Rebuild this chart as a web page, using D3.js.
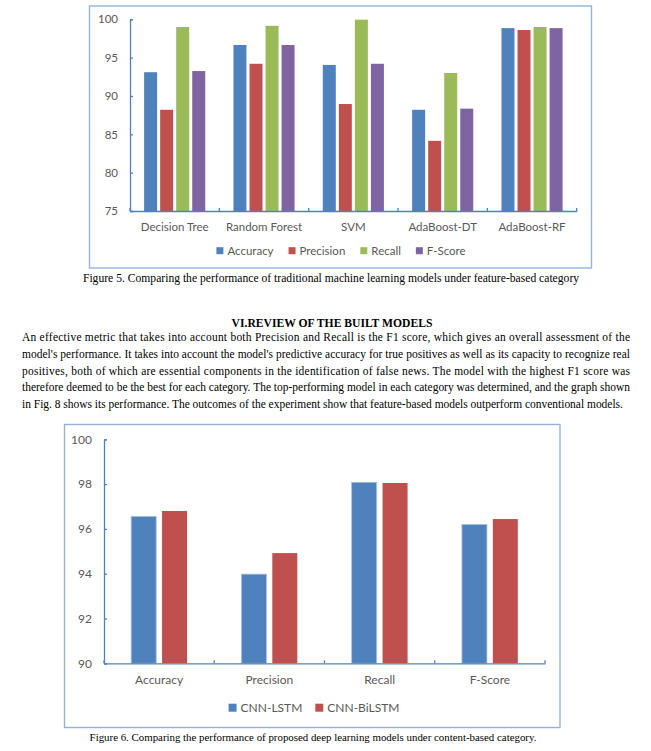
<!DOCTYPE html>
<html>
<head>
<meta charset="utf-8">
<script src="https://cdn.jsdelivr.net/npm/d3@7"></script>
<style>
  html, body { margin: 0; padding: 0; background: #fff; }
  svg { display: block; }
</style>
</head>
<body>
<svg id="page" width="651" height="751"></svg>
<script>
// ---------- Data: Figure 5 ----------
const models1 = ["Decision Tree", "Random Forest", "SVM", "AdaBoost-DT", "AdaBoost-RF"];
const metrics1 = ["Accuracy", "Precision", "Recall", "F-Score"];
const accuracy1  = [93.1, 96.65, 94.05, 88.2, 98.85];
const precision1 = [88.2, 94.2, 88.95, 84.15, 98.6];
const recall1    = [99.0, 99.15, 99.95, 93.0, 99.0];
const fscore1    = [93.25, 96.65, 94.2, 88.35, 98.85];
const yTicks1 = [75, 80, 85, 90, 95, 100];

// ---------- Data: Figure 6 ----------
const metrics2 = ["Accuracy", "Precision", "Recall", "F-Score"];
const series2 = ["CNN-LSTM", "CNN-BiLSTM"];
const cnnLstm   = [96.56, 93.98, 98.08, 96.2];
const cnnBiLstm = [96.8, 94.92, 98.05, 96.44];
const yTicks2 = [90, 92, 94, 96, 98, 100];

// ---------- Text ----------
const caption1 = "Figure 5. Comparing the performance of traditional machine learning models under feature-based category";
const caption2 = "Figure 6. Comparing the performance of proposed deep learning models under content-based category.";
const heading = "VI.REVIEW OF THE BUILT MODELS";
const paragraph = [
  "An effective metric that takes into account both Precision and Recall is the F1 score, which gives an overall assessment of the",
  "model's performance. It takes into account the model's predictive accuracy for true positives as well as its capacity to recognize real",
  "positives, both of which are essential components in the identification of false news. The model with the highest F1 score was",
  "therefore deemed to be the best for each category. The top-performing model in each category was determined, and the graph shown",
  "in Fig. 8 shows its performance. The outcomes of the experiment show that feature-based models outperform conventional models."
];

const colors = ["#4f81bd", "#c0504d", "#9bbb59", "#8064a2"];
const textGray = "#595959";
const axisBlue = "#4f81bd";
const boxBlue = "#95b3d7";
const sansFont = "Lato, 'Open Sans', 'Liberation Sans', sans-serif";
const serifFont = "'Liberation Serif', 'Times New Roman', serif";

const svg = d3.select("#page");
svg.append("rect").attr("width", 651).attr("height", 751).attr("fill", "#fff");

function drawChart(opts) {
  const g = svg.append("g");
  g.append("rect")
    .attr("x", opts.box[0]).attr("y", opts.box[1])
    .attr("width", opts.box[2]).attr("height", opts.box[3])
    .attr("fill", "#fff").attr("stroke", boxBlue).attr("stroke-width", 1.4);

  const x = d3.scaleBand().domain(opts.categories).range(opts.xRange).padding(0);
  const xs = d3.scaleBand().domain(opts.seriesNames).range([0, x.bandwidth()])
    .paddingInner(0.19).paddingOuter(0.88);
  const y = d3.scaleLinear().domain(opts.yDomain).range(opts.yRange);

  opts.seriesNames.forEach((s, si) => {
    g.append("g").selectAll("rect")
      .data(opts.values[si])
      .join("rect")
      .attr("x", (d, i) => x(opts.categories[i]) + xs(s))
      .attr("width", xs.bandwidth())
      .attr("y", d => y(d))
      .attr("height", d => y(opts.yDomain[0]) - y(d))
      .attr("fill", colors[si])
      .attr("stroke", opts.barStroke && si === 0 ? "#a9c1e0" : "none")
      .attr("stroke-width", 0.8);
  });

  const yAxis = d3.axisLeft(y).tickValues(opts.yTicks).tickSize(-3).tickPadding(12)
    .tickFormat(d3.format("d"));
  const ya = g.append("g").attr("transform", `translate(${opts.xRange[0]},0)`).call(yAxis);
  ya.select(".domain").attr("stroke", axisBlue).attr("stroke-width", 1.3);
  ya.selectAll(".tick line").attr("stroke", axisBlue).attr("stroke-width", 1.3);
  ya.selectAll("text").attr("fill", textGray).attr("font-family", sansFont)
    .attr("font-size", opts.fontSize);

  const xAxis = d3.axisBottom(x).tickSize(0).tickPadding(opts.xPad);
  const xa = g.append("g").attr("transform", `translate(0,${opts.yRange[0]})`).call(xAxis);
  xa.select(".domain").attr("stroke", axisBlue).attr("stroke-width", 1.3);
  xa.selectAll("text").attr("fill", textGray).attr("font-family", sansFont)
    .attr("font-size", opts.fontSize);
  const bounds = opts.categories.map(c => x(c)).concat([x.range()[1]]);
  g.append("g").selectAll("line").data(bounds).join("line")
    .attr("x1", d => d).attr("x2", d => d)
    .attr("y1", opts.yRange[0]).attr("y2", opts.yRange[0] - 3)
    .attr("stroke", axisBlue).attr("stroke-width", 1.3);

  const lg = g.append("g");
  const items = opts.seriesNames.map((s, i) => {
    const it = lg.append("g");
    it.append("rect").attr("width", opts.sq).attr("height", opts.sq)
      .attr("y", -opts.sq / 2).attr("fill", colors[i]);
    const t = it.append("text").attr("x", opts.sq + 4).attr("dy", "0.35em")
      .attr("fill", textGray).attr("font-family", sansFont).attr("font-size", opts.fontSize)
      .text(s);
    return { it, w: opts.sq + 4 + t.node().getComputedTextLength() };
  });
  const gap = opts.legendGap;
  const total = d3.sum(items, d => d.w) + gap * (items.length - 1);
  let cx = opts.legendCenter - total / 2;
  items.forEach(d => {
    d.it.attr("transform", `translate(${cx},${opts.legendY})`);
    cx += d.w + gap;
  });
}

drawChart({
  box: [89.5, 6, 502, 262],
  categories: models1,
  seriesNames: metrics1,
  values: [accuracy1, precision1, recall1, fscore1],
  xRange: [130, 576.7],
  yDomain: [75, 100],
  yRange: [211, 19.3],
  yTicks: yTicks1,
  fontSize: 11.5,
  xPad: 12,
  sq: 7,
  legendGap: 15,
  legendCenter: 341,
  legendY: 250.7,
  barStroke: false
});

drawChart({
  box: [64.5, 424.5, 495.5, 303],
  categories: metrics2,
  seriesNames: series2,
  values: [cnnLstm, cnnBiLstm],
  xRange: [104, 545],
  yDomain: [90, 100],
  yRange: [663.3, 439.3],
  yTicks: yTicks2,
  fontSize: 12,
  xPad: 12,
  sq: 8,
  legendGap: 13,
  legendCenter: 314,
  legendY: 707.7,
  barStroke: true
});

// ---------- text blocks ----------
// Pick a font size whose natural width fits the target width, then justify with spacing.
function placeText(sel, size, width, justify) {
  sel.attr("font-size", size);
  const w = sel.node().getComputedTextLength();
  const s = w > width ? size * (width - 1) / w : size;
  sel.attr("font-size", s);
  if (justify) sel.attr("textLength", width).attr("lengthAdjust", "spacing");
}

const c1 = svg.append("text").attr("x", 331).attr("y", 281.5).attr("text-anchor", "middle")
  .attr("font-family", serifFont).attr("fill", "#000").text(caption1);
placeText(c1, 12.5, 498, false);

const c2 = svg.append("text").attr("x", 313).attr("y", 741).attr("text-anchor", "middle")
  .attr("font-family", serifFont).attr("fill", "#000").text(caption2);
placeText(c2, 12.5, 448, false);

const h = svg.append("text").attr("x", 332).attr("y", 326.5).attr("text-anchor", "middle")
  .attr("font-family", serifFont).attr("font-weight", "bold")
  .attr("fill", "#000").text(heading);
placeText(h, 12.5, 202, false);

// common paragraph font size: largest that lets every line fit 608px
const paraG = svg.append("g");
const paraTexts = paraG.selectAll("text").data(paragraph).join("text")
  .attr("x", 22)
  .attr("y", (d, i) => 341 + i * 16.8)
  .attr("font-family", serifFont).attr("font-size", 12.5).attr("fill", "#000")
  .text(d => d);
let maxW = 0;
paraTexts.each(function() { maxW = Math.max(maxW, this.getComputedTextLength()); });
const paraSize = maxW > 607 ? 12.5 * 607 / maxW : 12.5;
paraTexts.attr("font-size", paraSize)
  .each(function(d, i) {
    if (i < 4) d3.select(this).attr("textLength", 608).attr("lengthAdjust", "spacing");
  });
</script>
</body>
</html>
